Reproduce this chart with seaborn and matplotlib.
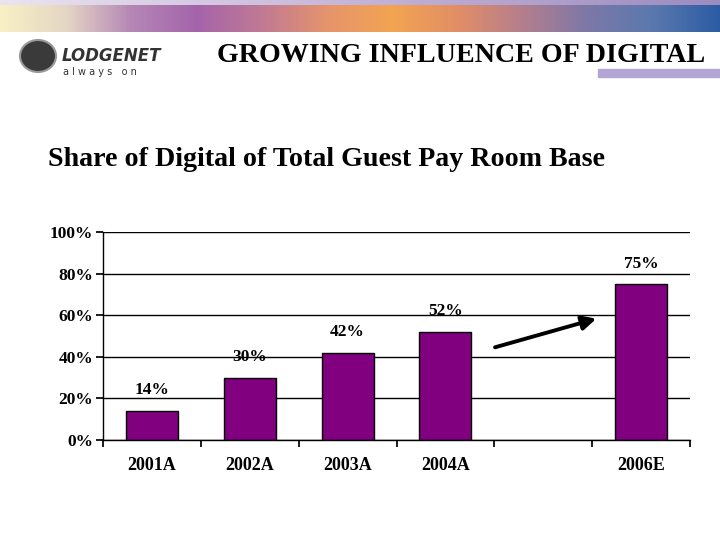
import numpy as np
import seaborn as sns
import matplotlib.pyplot as plt
from matplotlib.colors import LinearSegmentedColormap
from matplotlib.patches import Ellipse, Rectangle

# данные графика
years = ["2001A", "2002A", "2003A", "2004A", "", "2006E"]
digital_share = [14, 30, 42, 52, np.nan, 75]
bar_labels = ["14%", "30%", "42%", "52%", "", "75%"]
y_ticks = [0, 20, 40, 60, 80, 100]
y_tick_labels = ["0%", "20%", "40%", "60%", "80%", "100%"]

sns.set_theme(style="white")
plt.rcParams["font.family"] = ["Liberation Serif", "DejaVu Serif"]
plt.rcParams["text.color"] = "black"
plt.rcParams["xtick.color"] = "black"
plt.rcParams["ytick.color"] = "black"

fig = plt.figure(figsize=(7.2, 5.4), dpi=100)

# шапка слайда с градиентом
band = fig.add_axes([0, 1 - 32 / 540, 1, 27 / 540])
band_colors = ["#f8f0c4", "#e4d6c4", "#b586b6", "#a464aa", "#c07a94", "#e6946c",
               "#f2a452", "#e28e66", "#b47e8e", "#7c78a8", "#5a78ae", "#2c5ca4"]
cmap = LinearSegmentedColormap.from_list("band", band_colors)
grad = np.linspace(0, 1, 256)
band.imshow(np.vstack([grad, grad]), aspect="auto", cmap=cmap)
band.axis("off")
strip = fig.add_axes([0, 1 - 5 / 540, 1, 5 / 540])
strip.imshow(np.vstack([grad, grad]), aspect="auto",
             cmap=LinearSegmentedColormap.from_list("s", ["#eae4f0", "#c4b4d8", "#9c8cc0"]))
strip.axis("off")

fig.patches.append(Rectangle((598 / 720, 1 - 77 / 540), 122 / 720, 8 / 540,
                             transform=fig.transFigure, color="#b4a6d4", zorder=0))

# логотип
fig.patches.append(Ellipse((38 / 720, 1 - 56 / 540), 36 / 720, 32 / 540,
                           transform=fig.transFigure, facecolor="#3a3a3a",
                           edgecolor="#999999", lw=1.5))
fig.text(62 / 720, 1 - 56 / 540, "LODGENET", family="DejaVu Sans", fontsize=12,
         fontweight="bold", style="italic", color="#333333", va="center")
fig.text(63 / 720, 1 - 72 / 540, "a l w a y s   o n", family="DejaVu Sans",
         fontsize=7, color="#333333", va="center")

fig.text(705 / 720, 1 - 56 / 540, "GROWING INFLUENCE OF DIGITAL", fontsize=20.2,
         fontweight="bold", ha="right", va="center")
fig.text(48 / 720, 1 - 160 / 540, "Share of Digital of Total Guest Pay Room Base",
         fontsize=20.2, fontweight="bold", ha="left", va="center")

# столбчатая диаграмма
ax = fig.add_axes([103 / 720, 100 / 540, 587 / 720, 208 / 540])
sns.barplot(x=years, y=digital_share, ax=ax, color="#800080", saturation=1,
            width=0.53, edgecolor="black", linewidth=1)

for i, (v, lab) in enumerate(zip(digital_share, bar_labels)):
    if lab:
        ax.text(i, v + 6, lab, ha="center", va="bottom", fontsize=12.5,
                fontweight="bold")

ax.annotate("", xy=(4.57, 58.7), xytext=(3.48, 44.2),
            arrowprops=dict(arrowstyle="-|>,head_length=0.7,head_width=0.35",
                            color="black", lw=2.8))

ax.set_ylim(0, 100)
ax.set_xlim(-0.5, 5.5)
ax.set_yticks(y_ticks)
ax.set_yticklabels(y_tick_labels, fontsize=12.5, fontweight="bold")
ax.yaxis.grid(True, color="black", linewidth=1)
ax.set_axisbelow(True)

ax.set_xticks(np.arange(-0.5, 6, 1))
ax.set_xticklabels([])
ax.set_xticks(range(len(years)), minor=True)
ax.set_xticklabels(years, minor=True, fontsize=13, fontweight="bold")
ax.tick_params(axis="x", which="major", direction="out", length=5, color="black",
               bottom=True)
ax.tick_params(axis="x", which="minor", length=0, pad=12)
ax.tick_params(axis="y", direction="out", length=5, color="black", left=True, pad=2)

for side in ["top", "right"]:
    ax.spines[side].set_visible(False)
for side in ["left", "bottom"]:
    ax.spines[side].set_color("black")
    ax.spines[side].set_linewidth(1)
ax.set_xlabel("")
ax.set_ylabel("")

fig.savefig("out.png", dpi=100, facecolor="white")
